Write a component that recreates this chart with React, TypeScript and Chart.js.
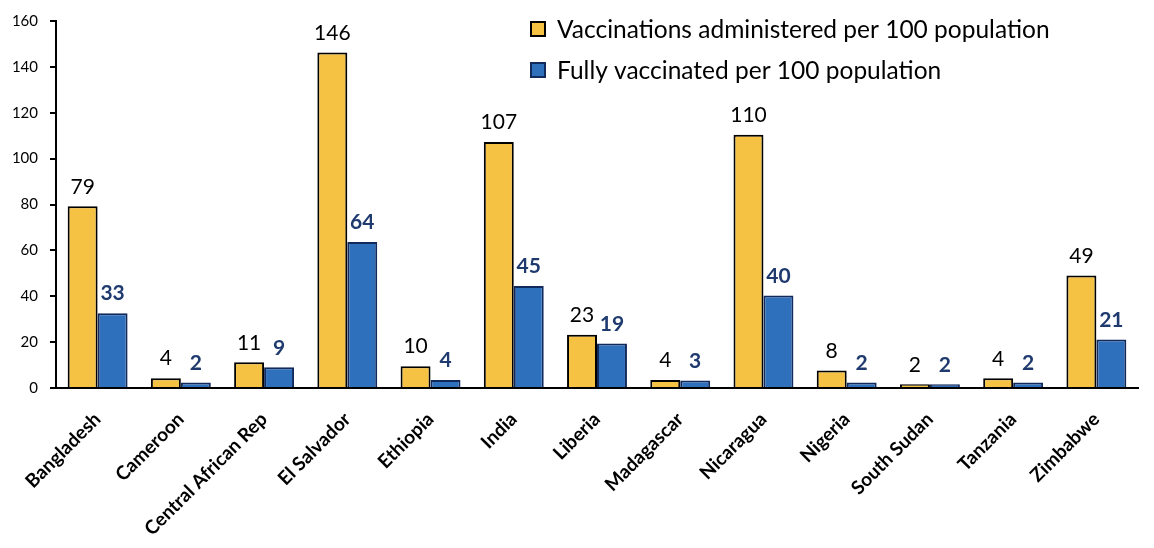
import React, { useEffect, useRef } from "react";
import { Chart, registerables } from "chart.js";

Chart.register(...registerables);

const categories = [
  "Bangladesh", "Cameroon", "Central African Rep", "El Salvador", "Ethiopia", "India",
  "Liberia", "Madagascar", "Nicaragua", "Nigeria", "South Sudan", "Tanzania", "Zimbabwe",
];
const vaccinationsAdministered = [79.2, 4.3, 11.2, 146.3, 9.5, 107.2, 23.2, 3.5, 110.4, 7.6, 1.6, 4.2, 49.1];
const fullyVaccinated = [32.6, 2.4, 9.0, 63.7, 3.5, 44.5, 19.4, 3.3, 40.3, 2.4, 1.6, 2.4, 21.1];
const seriesLabels = ["Vaccinations administered per 100 population", "Fully vaccinated per 100 population"];
const yTicks = [0, 20, 40, 60, 80, 100, 120, 140, 160];

const FONT = "Lato, 'Open Sans', sans-serif";
const YELLOW = "#F5C243";
const BLUE = "#2E70BC";
const NAVY = "#12295C";
const LABEL_NAVY = "#1F3A6E";

const valueLabelPlugin = {
  id: "valueLabels",
  afterDatasetsDraw(chart: any) {
    const ctx = chart.ctx;
    ctx.save();
    ctx.textAlign = "center";
    ctx.textBaseline = "bottom";
    chart.data.datasets.forEach((ds: any, i: number) => {
      const meta = chart.getDatasetMeta(i);
      ctx.font = i === 0 ? `400 21px ${FONT}` : `700 21px ${FONT}`;
      ctx.fillStyle = i === 0 ? "#000000" : LABEL_NAVY;
      meta.data.forEach((bar: any, j: number) => {
        ctx.fillText(String(Math.round(ds.data[j])), bar.x, bar.y - 9);
      });
    });
    ctx.restore();
  },
};

const legendPlugin = {
  id: "customLegend",
  afterDraw(chart: any) {
    const ctx = chart.ctx;
    ctx.save();
    ctx.font = `400 24.5px ${FONT}`;
    ctx.textBaseline = "middle";
    ctx.textAlign = "left";
    chart.data.datasets.forEach((ds: any, i: number) => {
      const y = 29 + i * 41;
      ctx.fillStyle = ds.backgroundColor;
      ctx.fillRect(531, y - 7, 14, 14);
      ctx.strokeStyle = ds.borderColor;
      ctx.lineWidth = 2;
      ctx.strokeRect(531, y - 7, 14, 14);
      ctx.fillStyle = "#000000";
      ctx.fillText(ds.label, 557, y + 1);
    });
    ctx.restore();
  },
};

export default function App() {
  const canvasRef = useRef<HTMLCanvasElement | null>(null);

  useEffect(() => {
    document.body.style.margin = "0";
    const canvas = canvasRef.current;
    if (!canvas) return;
    const chart = new Chart(canvas, {
      type: "bar",
      data: {
        labels: categories,
        datasets: [
          {
            label: seriesLabels[0],
            data: vaccinationsAdministered,
            backgroundColor: YELLOW,
            borderColor: "#000000",
            borderWidth: 2,
            borderSkipped: "bottom",
            categoryPercentage: 0.72,
            barPercentage: 1,
          },
          {
            label: seriesLabels[1],
            data: fullyVaccinated,
            backgroundColor: BLUE,
            borderColor: NAVY,
            borderWidth: 2,
            borderSkipped: "bottom",
            categoryPercentage: 0.72,
            barPercentage: 1,
          },
        ],
      },
      options: {
        animation: false,
        responsive: false,
        devicePixelRatio: 1,
        layout: { padding: { top: 17, right: 16, left: 0, bottom: 0 } },
        plugins: {
          legend: { display: false },
          tooltip: { enabled: false },
        },
        scales: {
          x: {
            offset: true,
            grid: { display: false },
            border: { display: true, color: "#000000", width: 2 },
            ticks: {
              minRotation: 45,
              maxRotation: 45,
              autoSkip: false,
              color: "#000000",
              padding: 12,
              font: { family: FONT, size: 19, weight: "bold" },
            },
            afterFit(scale: any) {
              scale.height = 160;
            },
          },
          y: {
            min: 0,
            max: 160,
            afterBuildTicks(scale: any) {
              scale.ticks = yTicks.map((v) => ({ value: v }));
            },
            grid: {
              display: true,
              drawOnChartArea: false,
              drawTicks: true,
              tickLength: 6,
              color: "#000000",
              lineWidth: 2,
            },
            border: { display: true, color: "#000000", width: 2 },
            ticks: {
              color: "#000000",
              padding: 12,
              font: { family: FONT, size: 15 },
            },
            afterFit(scale: any) {
              scale.width = 56;
            },
          },
        },
      },
      plugins: [valueLabelPlugin, legendPlugin],
    });
    return () => chart.destroy();
  }, []);

  return (
    <div style={{ width: 1154, height: 548, background: "#ffffff" }}>
      <canvas ref={canvasRef} width={1154} height={548} style={{ display: "block" }} />
    </div>
  );
}
